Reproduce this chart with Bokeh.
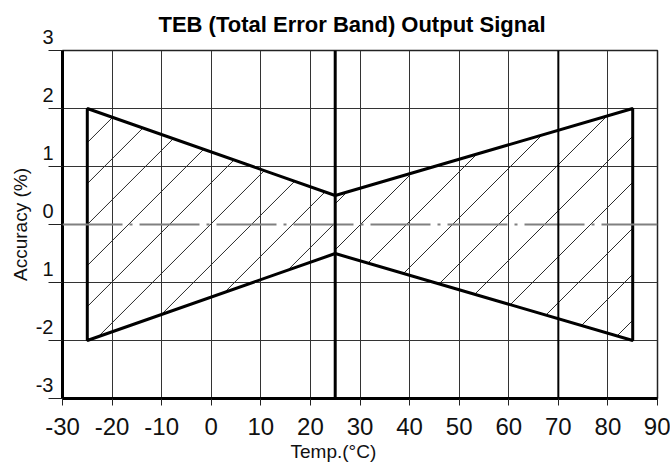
import numpy as np
from bokeh.plotting import figure
from bokeh.models import FixedTicker, Span, Range1d, Title, ColumnDataSource
from bokeh.embed import file_html
from bokeh.resources import INLINE

# ---- data ----
band_temp = [-25, 25, 85]
band_upper = [2, 0.5, 2]
band_lower = [-2, -0.5, -2]

x_ticks = [-30, -20, -10, 0, 10, 20, 30, 40, 50, 60, 70, 80, 90]
x_tick_labels = ["-30", "-20", "-10", "0", "10", "20", "30", "40", "50", "60", "70", "80", "90"]
y_ticks = [-3, -2, -1, 0, 1, 2, 3]
y_tick_labels = ["-3", "-2", "1", "0", "1", "2", "3"]
y_grid_ticks = [-3, -2, -1, 1, 2, 3]
bold_x_lines = [25, 70]
bold_x_widths = [3, 2]
zero_line = 0

title_text = "TEB (Total Error Band) Output Signal"
x_label = "Temp.(°C)"
y_label = "Accuracy (%)"

FONT = "Liberation Sans"
X0, X1, Y0, Y1 = -30, 90, -3, 3
FRAME_W, FRAME_H = 595, 348
BL, BR, BT, BB = 62, 13, 50, 72

p = figure(width=BL + FRAME_W + BR, height=BT + FRAME_H + BB,
           output_backend="svg", toolbar_location=None,
           x_range=Range1d(X0, X1), y_range=Range1d(Y0, Y1),
           min_border_left=BL, min_border_right=BR, min_border_top=BT, min_border_bottom=BB)

p.title.text = title_text
p.title.align = "left"
p.title.offset = 96
p.title.vertical_align = "top"
p.title.standoff = 23
p.title.text_font = FONT
p.title.text_font_size = "22px"
p.title.text_font_style = "bold"
p.title.text_color = "black"

p.outline_line_color = "#222222"
p.outline_line_width = 1.5
p.background_fill_color = "white"
p.border_fill_color = "white"

# axes
p.xaxis.ticker = FixedTicker(ticks=x_ticks)
p.yaxis.ticker = FixedTicker(ticks=y_ticks)
p.xaxis.major_label_overrides = {t: s for t, s in zip(x_ticks, x_tick_labels)}
# trailing empty line lifts each label above its grid line, as in the reference
p.yaxis.major_label_overrides = {t: s + "\n" for t, s in zip(y_ticks, y_tick_labels)}
for ax in (p.xaxis[0], p.yaxis[0]):
    ax.axis_line_width = 3
    ax.axis_line_color = "black"
    ax.minor_tick_line_color = None
    ax.major_tick_in = 0
    ax.major_tick_line_color = "#222222"
    ax.major_tick_line_width = 1
    ax.major_label_text_font = FONT
    ax.major_label_text_color = "#111111"
p.xaxis.major_tick_out = 7
p.xaxis.major_label_text_font_size = "24px"
p.xaxis.major_label_standoff = 12
p.yaxis.major_tick_out = 14
p.yaxis.major_label_text_font_size = "20px"
p.yaxis.major_label_standoff = -5
p.yaxis.axis_label = y_label
p.yaxis.axis_label_text_font = FONT
p.yaxis.axis_label_text_font_size = "19px"
p.yaxis.axis_label_text_font_style = "normal"
p.yaxis.axis_label_text_color = "#111111"
p.yaxis.axis_label_standoff = 2

# x axis title, placed under 25 °C like the reference
p.add_layout(Title(text=x_label, align="left", offset=228, vertical_align="bottom", standoff=2,
                   text_font=FONT, text_font_size="19px", text_font_style="normal",
                   text_color="#111111"), "below")

# grid
p.xgrid.ticker = FixedTicker(ticks=x_ticks)
p.ygrid.ticker = FixedTicker(ticks=y_grid_ticks)
p.xgrid.grid_line_color = "#333333"
p.ygrid.grid_line_color = "#333333"
p.xgrid.grid_line_width = 1
p.ygrid.grid_line_width = 1

# zero dash-dot line
p.add_layout(Span(location=zero_line, dimension="width", line_color="#808080",
                  line_width=2, line_dash="60 7 3 7"))

# ---- 45-degree hatching, clipped to the band (derived from the band arrays) ----
k = (FRAME_W / (X1 - X0)) / (FRAME_H / (Y1 - Y0))   # data slope of a 45° screen line
xd = np.linspace(band_temp[0], band_temp[-1], 22001)
up = np.interp(xd, band_temp, band_upper)
lo = np.interp(xd, band_temp, band_lower)
px_per_x = FRAME_W / (X1 - X0)

def hatch(x_lo, x_hi, phase, step_px):
    step = step_px / px_per_x
    reach = max(band_upper) / k + 1
    c = phase - step * np.ceil((phase - (x_lo - reach)) / step)
    seg = []
    while c <= x_hi + reach:
        yl = k * (xd - c)
        m = (yl >= lo) & (yl <= up) & (xd >= x_lo) & (xd <= x_hi)
        if m.any():
            idx = np.flatnonzero(m)
            a, b = xd[idx[0]], xd[idx[-1]]
            if b - a > 0.05:
                seg.append((a, k * (a - c), b, k * (b - c)))
        c += step
    return seg

segs = hatch(band_temp[0], band_temp[1], -16.7, 41) + hatch(band_temp[1], band_temp[2], 30.1, 46)
hs = ColumnDataSource(dict(x0=[s[0] for s in segs], y0=[s[1] for s in segs],
                           x1=[s[2] for s in segs], y1=[s[3] for s in segs]))
p.segment("x0", "y0", "x1", "y1", source=hs, line_color="#2a2a2a", line_width=1)

# band outline
xs = band_temp + band_temp[::-1]
ys = band_upper + band_lower[::-1]
p.patch(xs, ys, fill_color=None, line_color="black", line_width=3)

# thick reference verticals
for xv, w in zip(bold_x_lines, bold_x_widths):
    p.add_layout(Span(location=xv, dimension="height", line_color="black", line_width=w))

open("out.html", "w").write(file_html(p, INLINE))
